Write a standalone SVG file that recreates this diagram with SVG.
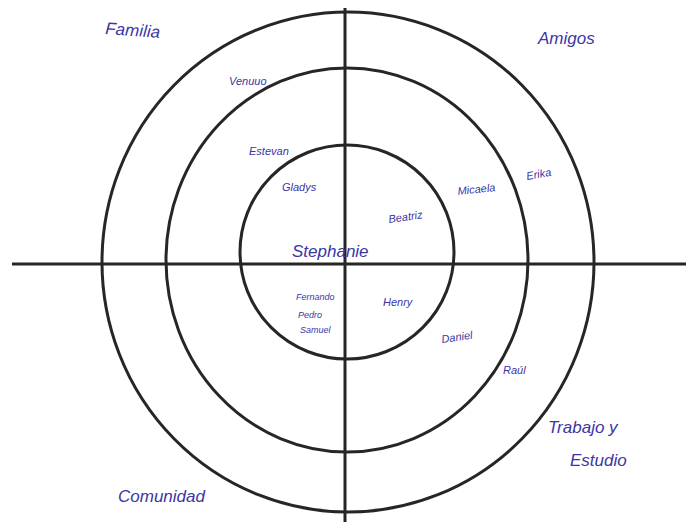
<svg xmlns="http://www.w3.org/2000/svg" width="686" height="522" viewBox="0 0 686 522">
<style>
.ring{fill:none;stroke:#262626;stroke-width:3}
.ax{stroke:#262626;stroke-width:3}
text{font-family:"Liberation Sans","DejaVu Sans",sans-serif;fill:#3b35a6;font-style:italic}
.q{font-size:17px}
.n{font-size:11px}
</style>
<rect width="686" height="522" fill="#ffffff"/>
<g id="rings">
<ellipse id="outer" class="ring" cx="348" cy="262" rx="246" ry="250"/>
<ellipse id="middle" class="ring" cx="347" cy="260" rx="181" ry="192"/>
<ellipse id="inner" class="ring" cx="347" cy="252" rx="107" ry="107"/>
</g>
<g id="connectors">
<line class="ax" x1="345" y1="8" x2="345" y2="522"/>
<line class="ax" x1="12" y1="264" x2="686" y2="264"/>
</g>
<g id="familia"><text class="q" x="105" y="34" transform="rotate(4 105 34)">Familia</text></g>
<g id="amigos"><text class="q" x="538" y="44">Amigos</text></g>
<g id="comunidad"><text class="q" x="118" y="502">Comunidad</text></g>
<g id="trabajo"><text class="q" x="548" y="433">Trabajo y</text><text class="q" x="570" y="466">Estudio</text></g>
<g id="stephanie"><text x="292" y="257" style="font-size:17px">Stephanie</text></g>
<g id="n-venuuo"><text class="n" x="229" y="85">Venuuo</text></g>
<g id="n-estevan"><text class="n" x="249" y="155">Estevan</text></g>
<g id="n-gladys"><text class="n" x="282" y="191">Gladys</text></g>
<g id="n-beatriz"><text class="n" x="389" y="223" transform="rotate(-8 389 223)">Beatriz</text></g>
<g id="n-micaela"><text class="n" x="458" y="195" transform="rotate(-6 458 195)">Micaela</text></g>
<g id="n-erika"><text class="n" x="527" y="180" transform="rotate(-10 527 180)">Erika</text></g>
<g id="n-henry"><text class="n" x="383" y="306">Henry</text></g>
<g id="n-left"><text class="n" x="296" y="300" style="font-size:9px">Fernando</text><text class="n" x="298" y="318" style="font-size:9px">Pedro</text><text class="n" x="300" y="333" style="font-size:9px">Samuel</text></g>
<g id="n-daniel"><text class="n" x="442" y="343" transform="rotate(-8 442 343)">Daniel</text></g>
<g id="n-raul"><text class="n" x="503" y="374">Raúl</text></g>
</svg>
